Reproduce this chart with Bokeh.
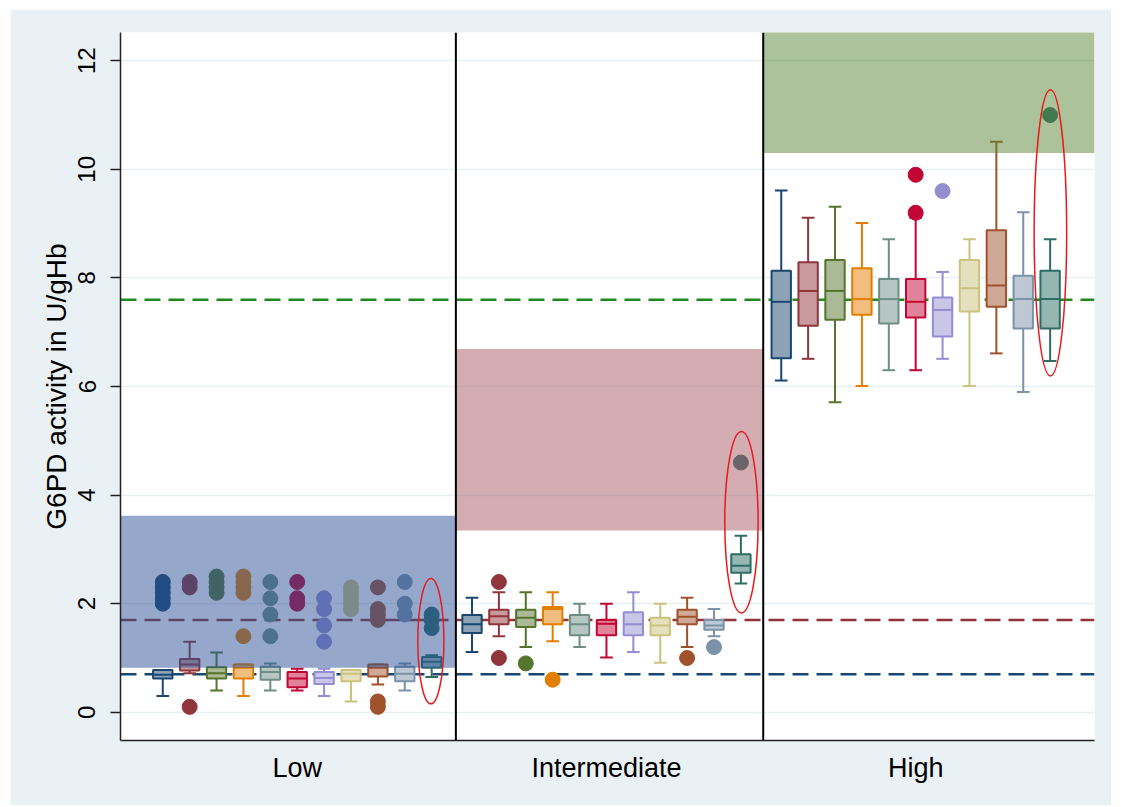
from bokeh.plotting import figure
from bokeh.models import Range1d, FixedTicker, Span
from bokeh.embed import file_html
from bokeh.resources import INLINE

# ---------------- data ----------------
groups = ["Low", "Intermediate", "High"]
group_offsets = [0, 11.5, 23]
colors = ["#1a476f", "#90353b", "#55752f", "#e37e00", "#6e8e84", "#c10534",
          "#938dd2", "#cac27e", "#a0522d", "#7b92a8", "#2d6d66"]

low_q1 = [0.62, 0.77, 0.62, 0.62, 0.60, 0.46, 0.52, 0.57, 0.66, 0.57, 0.82]
low_med = [0.69, 0.88, 0.72, 0.82, 0.74, 0.62, 0.63, 0.71, 0.82, 0.71, 0.93]
low_q3 = [0.78, 0.98, 0.83, 0.88, 0.84, 0.74, 0.74, 0.78, 0.88, 0.84, 1.02]
low_wlo = [0.30, 0.72, 0.40, 0.30, 0.40, 0.40, 0.30, 0.20, 0.51, 0.40, 0.65]
low_whi = [0.78, 1.30, 1.10, 0.88, 0.90, 0.80, 0.80, 0.78, 0.88, 0.90, 1.05]
low_out = [[2.0, 2.1, 2.2, 2.3, 2.4], [0.1, 2.3, 2.4], [2.2, 2.3, 2.4, 2.5],
           [1.4, 2.2, 2.3, 2.4, 2.5], [1.4, 1.8, 2.1, 2.4], [2.0, 2.1, 2.4],
           [1.3, 1.6, 1.9, 2.1], [1.9, 2.0, 2.1, 2.2, 2.3],
           [0.1, 0.2, 1.7, 1.8, 1.9, 2.3], [1.8, 2.0, 2.4], [1.55, 1.7, 1.8]]

int_q1 = [1.46, 1.62, 1.57, 1.62, 1.42, 1.42, 1.42, 1.42, 1.62, 1.52, 2.57]
int_med = [1.62, 1.77, 1.74, 1.90, 1.62, 1.63, 1.62, 1.60, 1.76, 1.60, 2.70]
int_q3 = [1.79, 1.89, 1.89, 1.94, 1.79, 1.70, 1.84, 1.74, 1.89, 1.70, 2.91]
int_wlo = [1.11, 1.40, 1.20, 1.31, 1.20, 1.01, 1.11, 0.91, 1.20, 1.40, 2.37]
int_whi = [2.11, 2.21, 2.21, 2.21, 2.00, 2.00, 2.21, 2.00, 2.11, 1.90, 3.25]
int_out = [[], [1.0, 2.4], [0.9], [0.6], [], [], [], [], [1.0], [1.2], [4.6]]

high_q1 = [6.52, 7.12, 7.23, 7.32, 7.16, 7.27, 6.92, 7.38, 7.47, 7.07, 7.07]
high_med = [7.56, 7.76, 7.76, 7.61, 7.61, 7.56, 7.41, 7.81, 7.86, 7.61, 7.61]
high_q3 = [8.13, 8.29, 8.33, 8.18, 7.98, 7.98, 7.64, 8.33, 8.88, 8.04, 8.13]
high_wlo = [6.11, 6.51, 5.71, 6.01, 6.30, 6.30, 6.51, 6.01, 6.61, 5.90, 6.47]
high_whi = [9.61, 9.11, 9.31, 9.01, 8.71, 9.11, 8.11, 8.71, 10.51, 9.21, 8.71]
high_out = [[], [], [], [], [], [9.2, 9.9], [9.6], [], [], [], [11.0]]

ref_values = [7.6, 1.7, 0.7]
ref_colors = ["#23891f", "#90353b", "#1a476f"]

band_bottom = [0.82, 3.35, 10.30]
band_top = [3.62, 6.69, 13.5]
band_colors = ["#2b5197", "#a95b67", "#578535"]
dividers = [10.9, 22.33]

ell_x = [9.97, 21.52, 33.01]
ell_y = [1.31, 3.50, 8.83]
ell_w = [0.97, 1.24, 1.21]
ell_h = [2.31, 3.34, 5.27]

y_ticks = [0, 2, 4, 6, 8, 10, 12]
x_start, x_end = -1.572, 34.65
y_start, y_end = -0.52, 12.52

# ---------------- assemble ----------------
def light(c, f=0.5):
    r, g, b = int(c[1:3], 16), int(c[3:5], 16), int(c[5:7], 16)
    return "#%02x%02x%02x" % tuple(int(round(v * f + 255 * (1 - f))) for v in (r, g, b))

stats = [
    (low_q1, low_med, low_q3, low_wlo, low_whi, low_out),
    (int_q1, int_med, int_q3, int_wlo, int_whi, int_out),
    (high_q1, high_med, high_q3, high_wlo, high_whi, high_out),
]
X, Q1, MED, Q3, WLO, WHI, COL, FILL = [], [], [], [], [], [], [], []
OX, OY, OC = [], [], []
for g, (q1, md, q3, wl, wh, out) in enumerate(stats):
    for i in range(len(colors)):
        x = group_offsets[g] + i
        X.append(x); Q1.append(q1[i]); MED.append(md[i]); Q3.append(q3[i])
        WLO.append(wl[i]); WHI.append(wh[i]); COL.append(colors[i]); FILL.append(light(colors[i]))
        for v in out[i]:
            OX.append(x); OY.append(v); OC.append(colors[i])

FONT = "Liberation Sans"
p = figure(frame_width=974, frame_height=708,
           min_border_left=110, min_border_right=17, min_border_top=23, min_border_bottom=65,
           x_range=Range1d(x_start, x_end), y_range=Range1d(y_start, y_end),
           output_backend="svg", toolbar_location=None)
p.margin = (9, 0, 0, 10)
p.border_fill_color = "#eaf1f4"
p.background_fill_color = "white"
p.outline_line_color = None

p.xgrid.visible = False
p.ygrid.ticker = FixedTicker(ticks=y_ticks)
p.ygrid.grid_line_color = "#e6eff1"
p.ygrid.grid_line_width = 1.5

p.yaxis.ticker = FixedTicker(ticks=y_ticks)
p.yaxis.major_label_orientation = "vertical"
p.yaxis.major_label_text_font = FONT
p.yaxis.major_label_text_font_size = "24px"
p.yaxis.major_label_text_color = "black"
p.yaxis.major_tick_out = 10
p.yaxis.major_tick_in = 0
p.yaxis.minor_tick_out = 0
p.yaxis.minor_tick_in = 0
p.yaxis.major_label_standoff = 15
p.yaxis.axis_label = "G6PD activity in U/gHb"
p.yaxis.axis_label_text_font = FONT
p.yaxis.axis_label_text_font_style = "normal"
p.yaxis.axis_label_text_font_size = "28px"
p.yaxis.axis_label_text_color = "black"
p.yaxis.axis_label_standoff = 4
p.yaxis.axis_line_color = "#222222"
p.yaxis.axis_line_width = 1.5
p.yaxis.major_tick_line_color = "#222222"
p.yaxis.major_tick_line_width = 1.5

centers = [o + 5 for o in group_offsets]
p.xaxis.ticker = FixedTicker(ticks=centers)
p.xaxis.major_label_overrides = {c: g for c, g in zip(centers, groups)}
p.xaxis.major_label_text_font = FONT
p.xaxis.major_label_text_font_size = "27px"
p.xaxis.major_label_text_color = "black"
p.xaxis.major_tick_out = 0
p.xaxis.major_tick_in = 0
p.xaxis.minor_tick_out = 0
p.xaxis.minor_tick_in = 0
p.xaxis.major_label_standoff = 12
p.xaxis.axis_line_color = "#222222"
p.xaxis.axis_line_width = 1.5

for v, c in zip(ref_values, ref_colors):
    p.add_layout(Span(location=v, dimension="width", line_color=c, line_width=2.5,
                      line_dash="16 8", level="underlay"))

# whiskers
p.segment(X, WLO, X, Q1, line_color=COL, line_width=2)
p.segment(X, Q3, X, WHI, line_color=COL, line_width=2)
cap = 0.235
p.segment([x - cap for x in X], WLO, [x + cap for x in X], WLO, line_color=COL, line_width=2)
p.segment([x - cap for x in X], WHI, [x + cap for x in X], WHI, line_color=COL, line_width=2)
# boxes
bw = 0.72
p.vbar(x=X, width=bw, bottom=Q1, top=Q3, fill_color=FILL, line_color=COL, line_width=2)
p.segment([x - bw / 2 for x in X], MED, [x + bw / 2 for x in X], MED, line_color=COL, line_width=2)
# outliers
p.scatter(OX, OY, size=15, fill_color=OC, line_color=OC)

# shaded bands
lefts = [x_start] + dividers
rights = dividers + [x_end]
p.quad(left=lefts, right=rights, bottom=band_bottom, top=band_top,
       fill_color=band_colors, fill_alpha=0.5, line_color=None)

for d in dividers:
    p.add_layout(Span(location=d, dimension="height", line_color="black", line_width=2))

p.ellipse(x=ell_x, y=ell_y, width=ell_w, height=ell_h, fill_color=None,
          line_color="#e8191c", line_width=1.5)

open("out.html", "w").write(file_html(p, INLINE))
